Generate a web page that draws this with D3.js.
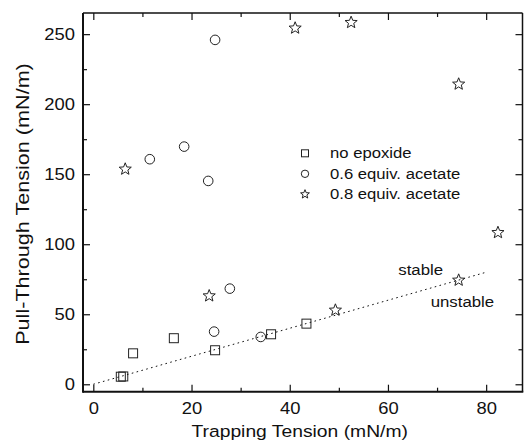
<!DOCTYPE html>
<html><head><meta charset="utf-8">
<script src="https://cdn.jsdelivr.net/npm/d3@7"></script>
<style>html,body{margin:0;padding:0;background:#fff}svg{display:block}text{font-family:"Liberation Sans",Arial,sans-serif;fill:#111}</style>
</head><body>
<svg id="c" width="525" height="442"></svg>
<script>
// ---- data ----
const seriesNames = ["no epoxide", "0.6 equiv. acetate", "0.8 equiv. acetate"];
const noEpoxideX = [5.6, 6.1, 8.1, 16.4, 24.8, 36.2, 43.4];
const noEpoxideY = [5.4, 5.6, 22.1, 32.9, 24.3, 35.7, 43.3];
const acetate06X = [24.8, 11.5, 18.5, 23.4, 27.8, 24.6, 34.1];
const acetate06Y = [245.9, 160.7, 169.7, 145.2, 68.3, 37.6, 33.8];
const acetate08X = [6.5, 41.1, 52.5, 74.4, 23.6, 82.4, 74.4, 49.3];
const acetate08Y = [153.6, 254.3, 258.3, 214.3, 63.1, 108.3, 74.3, 52.9];
const lineX = [0, 80];
const lineY = [0, 80];
const xMajor = [0, 20, 40, 60, 80];
const xMinor = [10, 30, 50, 70];
const yMajor = [0, 50, 100, 150, 200, 250];
const yMinor = [25, 75, 125, 175, 225];
const annotations = [{text: "stable", x: 62.1, y: 78}, {text: "unstable", x: 68.7, y: 55.2}];
const xTitle = "Trapping Tension (mN/m)";
const yTitle = "Pull-Through Tension (mN/m)";

// ---- layout ----
const L = 83, T = 13, R = 522.5, B = 391.7;
const svg = d3.select("#c");
const x = d3.scaleLinear().domain([-2.1, 87.4]).range([L, R]);
const y = d3.scaleLinear().domain([-5.3, 265.1]).range([B, T]);
const SX = 1.15;

function styleAxis(g) {
  g.select(".domain").remove();
  g.selectAll(".tick line").attr("stroke", "#111").attr("stroke-width", 1.2);
  g.selectAll("text").attr("font-size", 16).attr("fill", "#111");
}
// bottom
const gb = svg.append("g").attr("transform", `translate(0,${B})`)
  .call(d3.axisBottom(x).tickValues(xMajor).tickSizeInner(-7).tickSizeOuter(0).tickPadding(11).tickFormat(d3.format("d")));
styleAxis(gb);
gb.selectAll("text").attr("transform", `scale(${SX},1)`);
svg.append("g").attr("transform", `translate(0,${B})`)
  .call(d3.axisBottom(x).tickValues(xMinor).tickSizeInner(-4).tickSizeOuter(0).tickFormat("")).call(styleAxis);
// top
svg.append("g").attr("transform", `translate(0,${T})`)
  .call(d3.axisTop(x).tickValues(xMajor).tickSizeInner(-7).tickSizeOuter(0).tickFormat("")).call(styleAxis);
svg.append("g").attr("transform", `translate(0,${T})`)
  .call(d3.axisTop(x).tickValues(xMinor).tickSizeInner(-4).tickSizeOuter(0).tickFormat("")).call(styleAxis);
// left
const gl = svg.append("g").attr("transform", `translate(${L},0)`)
  .call(d3.axisLeft(y).tickValues(yMajor).tickSizeInner(-7).tickSizeOuter(0).tickPadding(7).tickFormat(d3.format("d")));
styleAxis(gl);
gl.selectAll("text").attr("transform", `scale(${SX},1)`);
svg.append("g").attr("transform", `translate(${L},0)`)
  .call(d3.axisLeft(y).tickValues(yMinor).tickSizeInner(-4).tickSizeOuter(0).tickFormat("")).call(styleAxis);
// right
svg.append("g").attr("transform", `translate(${R},0)`)
  .call(d3.axisRight(y).tickValues(yMajor).tickSizeInner(-7).tickSizeOuter(0).tickFormat("")).call(styleAxis);
svg.append("g").attr("transform", `translate(${R},0)`)
  .call(d3.axisRight(y).tickValues(yMinor).tickSizeInner(-4).tickSizeOuter(0).tickFormat("")).call(styleAxis);

// frame
svg.append("line").attr("x1", L).attr("x2", R + 0.8).attr("y1", B).attr("y2", B).attr("stroke", "#111").attr("stroke-width", 2);
svg.append("line").attr("x1", L).attr("x2", L).attr("y1", T).attr("y2", B + 1).attr("stroke", "#111").attr("stroke-width", 2);
svg.append("line").attr("x1", L).attr("x2", R).attr("y1", T).attr("y2", T).attr("stroke", "#111").attr("stroke-width", 1.5);
svg.append("line").attr("x1", R).attr("x2", R).attr("y1", T).attr("y2", B).attr("stroke", "#111").attr("stroke-width", 1.5);

// dotted line
svg.append("path")
  .attr("d", d3.line().x((d, i) => x(lineX[i])).y((d, i) => y(lineY[i]))(lineX))
  .attr("fill", "none").attr("stroke", "#111").attr("stroke-width", 1).attr("stroke-dasharray", "1.6,3.4");

// markers
function starPath(R0, r0) {
  const pts = [];
  for (let i = 0; i < 10; i++) {
    const a = -Math.PI / 2 + i * Math.PI / 5;
    const rr = i % 2 === 0 ? R0 : r0;
    pts.push([rr * Math.cos(a), rr * Math.sin(a)]);
  }
  return "M" + pts.map(p => p[0].toFixed(2) + "," + p[1].toFixed(2)).join("L") + "Z";
}
function drawMarker(g, kind, s) {
  if (kind === 0) {
    g.append("rect").attr("x", -s / 2).attr("y", -s / 2).attr("width", s).attr("height", s);
  } else if (kind === 1) {
    g.append("circle").attr("r", s / 2);
  } else {
    g.append("path").attr("d", starPath(s * 0.58, s * 0.25));
  }
}
const series = [[noEpoxideX, noEpoxideY], [acetate06X, acetate06Y], [acetate08X, acetate08Y]];
const sizes = [9, 9.6, 11];
series.forEach((s, k) => {
  s[0].forEach((xv, i) => {
    const g = svg.append("g").attr("transform", `translate(${x(xv)},${y(s[1][i])})`)
      .attr("fill", "none").attr("stroke", "#222").attr("stroke-width", 1);
    drawMarker(g, k, sizes[k]);
  });
});

// annotations
annotations.forEach(a => {
  svg.append("text").attr("transform", `translate(${x(a.x)},${y(a.y)}) scale(1.12,1)`)
    .attr("font-size", 15).text(a.text);
});

// legend
const legSizes = [7, 7.4, 8];
seriesNames.forEach((n, k) => {
  const cy = 153.3 + k * 20.5;
  const g = svg.append("g").attr("transform", `translate(305,${cy})`)
    .attr("fill", "none").attr("stroke", "#222").attr("stroke-width", 1);
  drawMarker(g, k, legSizes[k]);
  svg.append("text").attr("transform", `translate(330,${cy + 5}) scale(1.15,1)`)
    .attr("font-size", 14.5).text(n);
});

// titles
svg.append("text").attr("transform", `translate(299.7,437) scale(1.17,1)`).attr("text-anchor", "middle")
  .attr("font-size", 16.5).text(xTitle);
svg.append("text").attr("transform", `translate(28.9,204) rotate(-90) scale(1.2,1)`).attr("text-anchor", "middle")
  .attr("font-size", 18).text(yTitle);
</script>
</body></html>
